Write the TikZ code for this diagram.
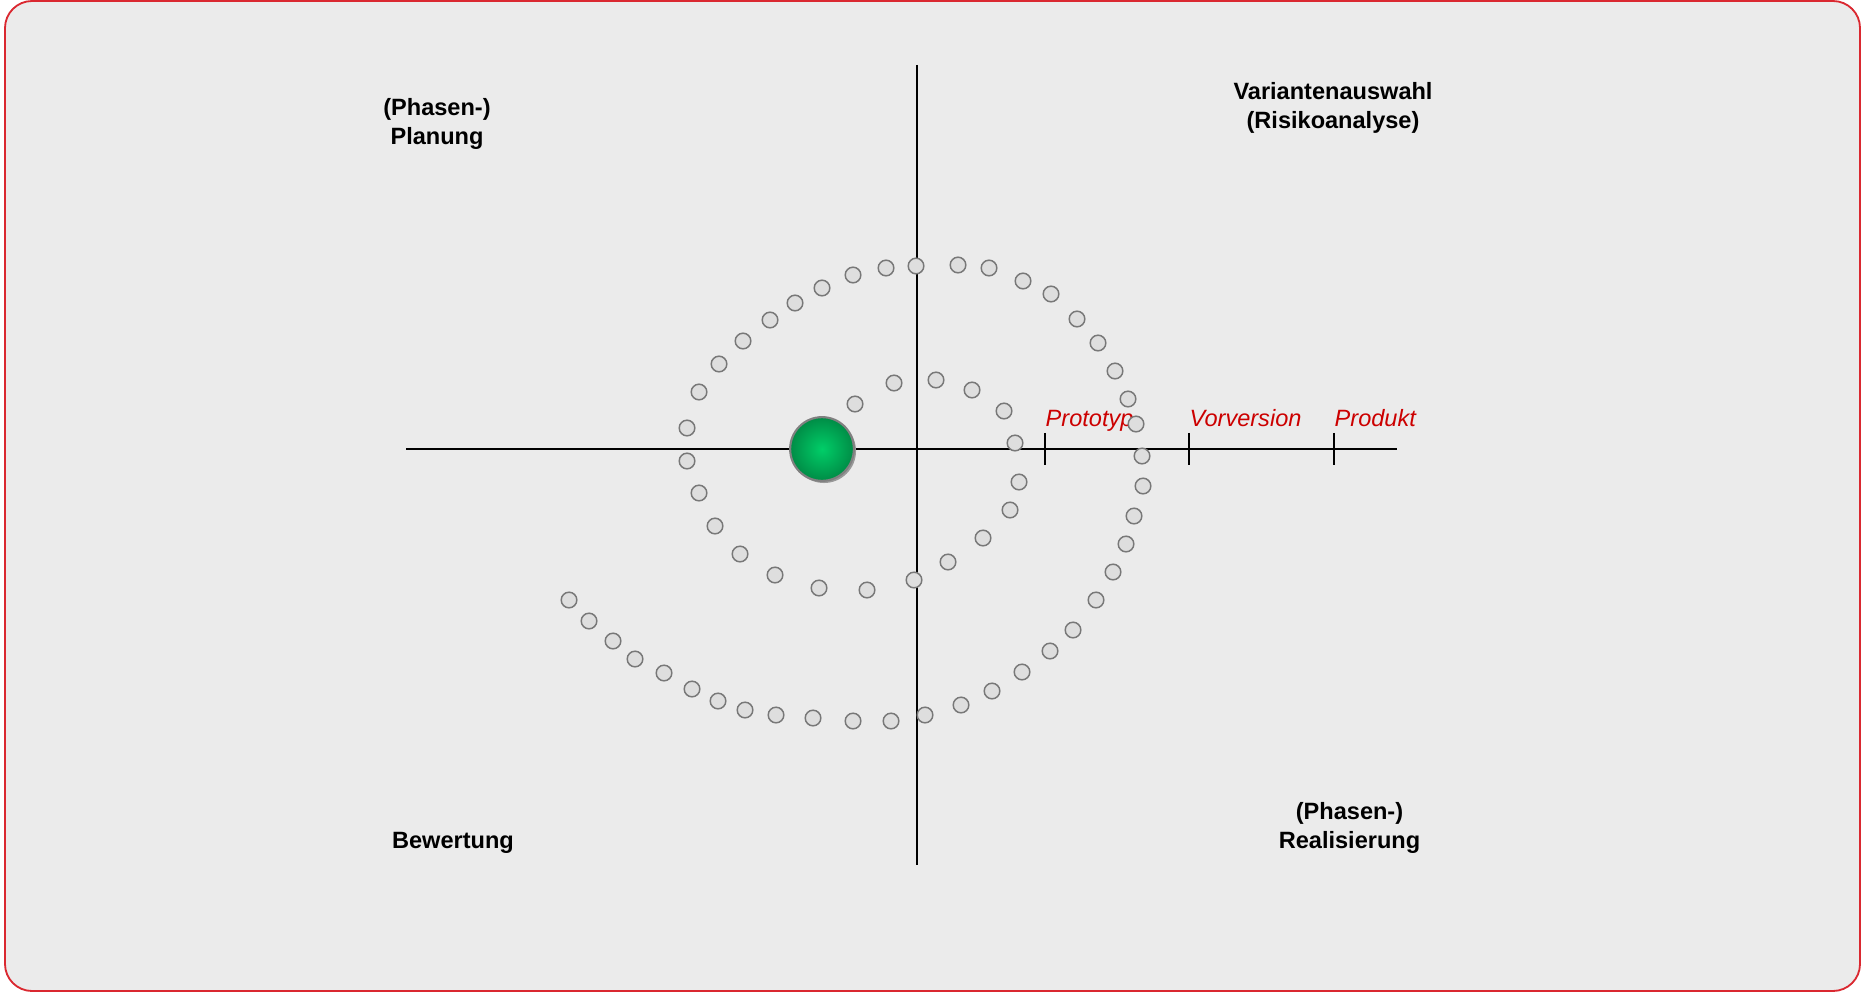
\documentclass[tikz,border=0pt]{standalone}
\usepackage{fontspec}
\setmainfont{Liberation Sans}
\definecolor{panel}{RGB}{235,235,235}
\definecolor{frame}{RGB}{218,40,48}
\definecolor{milestone}{RGB}{204,0,0}
\definecolor{dotfill}{RGB}{222,222,222}
\definecolor{dotline}{RGB}{120,120,120}
\definecolor{ballin}{RGB}{0,206,104}
\definecolor{ballout}{RGB}{0,140,70}
\begin{document}
\begin{tikzpicture}[x=0.01cm,y=-0.01cm,
    dot/.style={circle,fill=dotfill,draw=dotline,line width=0.42pt,
      minimum size=0.156cm,inner sep=0pt},
    ball/.style={circle,inner color=ballin,outer color=ballout,draw=gray,
      line width=0.6pt,minimum size=0.637cm,inner sep=0pt},
    quad/.style={font=\fontsize{6.7}{8.05}\selectfont\bfseries,align=center,inner sep=0pt},
    stage/.style={font=\fontsize{6.7}{8.05}\selectfont\itshape,text=milestone,
      inner sep=0pt,anchor=base west}]
  \useasboundingbox (0,0) rectangle (1861,994);
  \draw[fill=panel,draw=frame,line width=0.52pt,rounded corners=0.27cm]
       (5,1) rectangle (1860,991);
  % axes
  \coordinate (west) at (406,449);
  \coordinate (east) at (1397,449);
  \coordinate (north) at (917,65);
  \coordinate (south) at (917,865);
  \draw[line width=0.65pt] (west) -- (east);
  \draw[line width=0.65pt] (north) -- (south);
  \foreach \tx/\name in {1045/Prototyp,1189/Vorversion,1334/Produkt}{
    \coordinate (t\name) at (\tx,449);
    \draw[line width=0.55pt] ([yshift=0.16cm]t\name) -- ([yshift=-0.16cm]t\name);
    \node[stage] (l\name) at (\tx,426) {\name};
  }
  % quadrants
  \node[quad] (plan) at (437,124) {(Phasen-)\\Planung};
  \node[quad] (risk) at (1333,108) {Variantenauswahl\\(Risikoanalyse)};
  \node[quad,anchor=base] (eval) at (453,848) {Bewertung};
  \node[quad] (real) at (1349.5,828) {(Phasen-)\\Realisierung};
  % spiral
  \foreach \px/\py [count=\i] in {855/404,894/383,936/380,972/390,1004/411,
      1015/443,1019/482,1010/510,983/538,948/562,914/580,867/590,819/588,
      775/575,740/554,715/526,699/493,687/461,687/428,699/392,719/364,
      743/341,770/320,795/303,822/288,853/275,886/268,916/266,958/265,
      989/268,1023/281,1051/294,1077/319,1098/343,1115/371,1128/399,
      1136/424,1142/456,1143/486,1134/516,1126/544,1113/572,1096/600,
      1073/630,1050/651,1022/672,992/691,961/705,925/715,891/721,853/721,
      813/718,776/715,745/710,718/701,692/689,664/673,635/659,613/641,
      589/621,569/600}
    \node[dot] (d\i) at (\px,\py) {};
  \node[circle,fill=gray!80,minimum size=0.64cm,inner sep=0pt] (shade) at (824,451) {};
  \node[ball] (start) at (822,449) {};
\end{tikzpicture}
\end{document}
